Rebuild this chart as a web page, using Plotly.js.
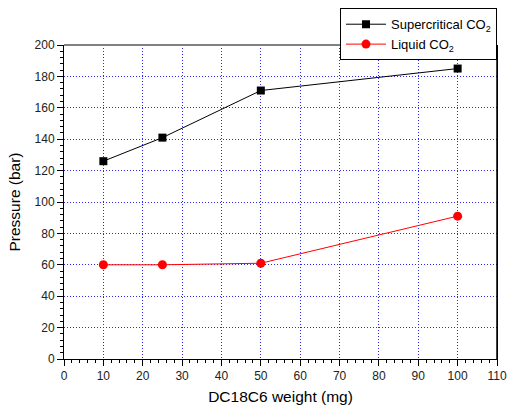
<!DOCTYPE html>
<html>
<head>
<meta charset="utf-8">
<script src="https://cdn.plot.ly/plotly-3.0.1.min.js"></script>
<style>html,body{margin:0;padding:0;background:#fff;}#chart{width:509px;height:414px;}</style>
</head>
<body>
<div id="chart"></div>
<script>
const weights = [10, 25, 50, 100];
const supercritical = [126, 141, 171, 185];
const liquid = [60, 60, 61, 91];
const xTicks = [0,10,20,30,40,50,60,70,80,90,100,110];
const yTicks = [0,20,40,60,80,100,120,140,160,180,200];

const traces = [
  {x: weights, y: supercritical, mode: 'lines+markers', name: 'Supercritical CO<sub>2</sub>',
   line: {color: '#000000', width: 1}, marker: {symbol: 'square', size: 8, color: '#000000'}},
  {x: weights, y: liquid, mode: 'lines+markers', name: 'Liquid CO<sub>2</sub>',
   line: {color: '#ff0000', width: 1}, marker: {symbol: 'circle', size: 9, color: '#ff0000'}}
];

const gridStyle = {showgrid: true, gridcolor: '#2a2aff', griddash: '1px,2px', gridwidth: 1};

const layout = {
  width: 509, height: 414,
  margin: {l: 64, r: 12, t: 45, b: 55, autoexpand: false},
  paper_bgcolor: '#ffffff', plot_bgcolor: '#ffffff',
  font: {family: 'Liberation Sans, Arial, sans-serif', size: 12, color: '#000'},
  showlegend: true,
  legend: {x: 1, xanchor: 'right', y: 1.117, yanchor: 'top', bordercolor: '#000', borderwidth: 1,
           bgcolor: '#fff', font: {size: 13, color: '#000'}, tracegroupgap: 0, itemwidth: 40},
  xaxis: Object.assign({
    range: [0, 110], tickvals: xTicks, ticktext: xTicks.map(String),
    showline: true, linecolor: '#000', linewidth: 1, ticks: 'outside', ticklen: 6, tickcolor: '#000',
    zeroline: false, tickfont: {size: 12, color: '#222'},
    minor: {dtick: 2, ticks: 'outside', ticklen: 3, tickcolor: '#000', showgrid: false},
    title: {text: 'DC18C6 weight (mg)', font: {size: 15.5, color: '#000'}, standoff: 8}
  }, gridStyle),
  yaxis: Object.assign({
    range: [0, 200], tickvals: yTicks, ticktext: yTicks.map(String),
    showline: true, linecolor: '#000', linewidth: 1, mirror: true, ticks: 'outside', ticklen: 6, tickcolor: '#000',
    zeroline: false, tickfont: {size: 12, color: '#222'},
    minor: {dtick: 4, ticks: 'outside', ticklen: 3, tickcolor: '#000', showgrid: false},
    title: {text: 'Pressure (bar)', font: {size: 15.5, color: '#000'}, standoff: 10}
  }, gridStyle),
  shapes: [
    {type: 'line', xref: 'paper', yref: 'paper', x0: 0, x1: 1, y0: 1, y1: 1, line: {color: '#808080', width: 2}},
    {type: 'line', xref: 'paper', yref: 'paper', x0: 1, x1: 1, y0: 0, y1: 1, line: {color: '#000', width: 1.5}}
  ]
};

Plotly.newPlot('chart', traces, layout, {displayModeBar: false, staticPlot: true});
</script>
</body>
</html>
